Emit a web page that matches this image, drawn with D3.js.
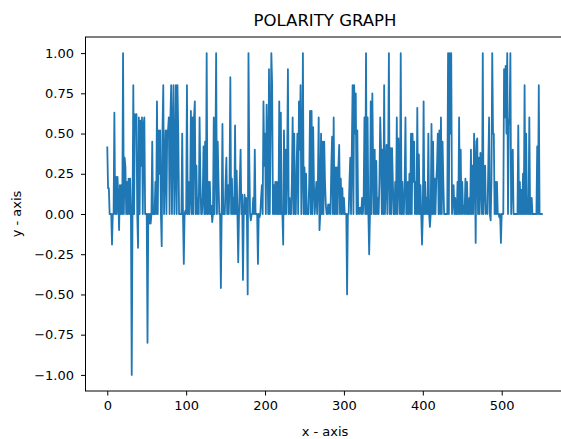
<!DOCTYPE html>
<html>
<head>
<meta charset="utf-8">
<script src="https://cdn.jsdelivr.net/npm/d3@7"></script>
<style>
  body { margin: 0; background: #fff; }
  svg text { font-family: "DejaVu Sans", sans-serif; fill: #000; }
</style>
</head>
<body>
<script>
// polarity value per sentence (index = x)
var polarity = [
  0.42, 0.16, 0.16, 0, 0, 0, -0.19, 0, 0, 0.63,
  0, 0.23, 0, 0.23, 0.1, -0.1, 0.18, 0, 0.18, 0,
  1.0, 0, 0.35, 0.29, 0, 0.2, 0, 0.22, 0, 0.22,
  0, -1.0, 0, 0.8, 0, 0.62, 0.6, 0.62, 0, -0.21,
  0.6, 0, 0.58, 0.3, 0.6, 0, 0.55, 0.6, 0, 0,
  0, -0.8, 0, -0.06, 0, -0.06, 0, 0.45, 0, 0,
  0, 0.2, 0, 0.7, 0, 0.52, 0.25, 0.52, 0, -0.2,
  0.52, 0.8, 0, 0.3, 0.52, 0, 0.52, 0.52, 0.6, 0,
  0.6, 0.8, 0, 0.52, 0.8, 0, 0.3, 0.8, 0, 0.8,
  0.5, 0, 0, 0, 0, 0.5, 0, -0.31, 0, 0.02,
  0, 0.8, 0, 0.2, 0, 0.1, 0.64, 0, 0.6, 0,
  0.6, 0.7, 0, 0.3, 0, 0.1, 0, 0.6, 0.22, 0,
  0, 0.1, 0.42, 0, 0.45, 0, 1.0, 0, 0.2, 0,
  0.2, 0, 0.05, -0.05, 0, 0.6, 0, 0.3, 1.0, 0,
  0.45, 0.2, 0, 0, -0.46, 0, 0.56, 0, 0, 0,
  0.2, 0.35, 0, 0.18, 0, 0.2, 0.85, 0, 0.22, 0,
  0.1, 0, 0.55, 0, 0.27, 0, -0.3, 0, 0.2, 0.4,
  0, 0.12, -0.41, 0, 0.12, 0, 0.1, 0, -0.5, 1.0,
  0.35, 0, -0.04, 0, 0, 0.1, 0, 0.4, 0, 0,
  0, -0.31, 0, -0.02, 0, 0.1, 0.18, 0, 0.7, 0.3,
  0.5, 0, 0.68, 0.4, 0, 0.9, 0, 0.5, 1.0, 0.8,
  0, 0.18, 0, 0.2, 0, 0.2, 0, 0, 0.7, 0,
  0.63, 0, 0, -0.19, 0.52, 0, 0.4, 0, 0.3, 0.9,
  0, 0.1, 0, 0, 0.2, 0.6, 0, 0.5, 0, 0,
  0.3, 0.5, 0, 0.7, 0.4, 0.8, 0, 0.3, 1.0, 0,
  0.29, 0, 0.25, 0, 0, 0, 0.2, 0.64, 0, 0.64,
  0, 0.54, 0.18, 0, 0.1, 0.2, 0, 0.2, 0.6, -0.1,
  0, 0.5, 0, 0.45, 0, 0.45, 0.2, 0.06, 0, 0,
  0.06, 0, 0.06, 0, 0.3, 0.48, 0, 0.6, 0, 0.29,
  0, 0.29, 0, 0.3, 0.43, 0, 0.22, 0, 0.16, 0,
  0.1, 0, 0, 0, -0.5, 0, 0, 0.2, 0.35, 0,
  0.4, 0.8, 0, 0.8, 0.5, 0.75, 0, 0.52, 0, 0.04,
  0, 0.04, 0, 0.1, 0, 0.1, 0.6, 0, 1.0, 0,
  0.6, 0, -0.25, 0, 0.7, 0, 0.75, 0.3, 0, 0.4,
  0, 0.33, 0, 0.1, 0, 0.2, 0.6, 0.4, 0, 0.4,
  0, 0.8, 0, 0.2, 0.43, 0, 0.3, 1.0, 0, 0.41,
  0, 0.41, 0.2, 0, 0, 0.2, 0, 0.6, 0, 0.47,
  0.2, 0, 1.0, 0, 0.2, 0, 0, 0.2, 0.6, 0,
  0, 0.2, 0, 0.25, 0, 0.5, 0, 0.5, 0.2, 0.45,
  0, 0.2, 0, 0.66, 0, 0.37, 0, 0.18, 0, -0.19,
  0, 0.7, 0, 0.2, 0, 0.1, 0, 0.5, 0, -0.08,
  0, 0.56, 0, 0.45, 0, 0.22, 0, 0.2, 0.3, 0.5,
  0, 0.52, 0, 0.6, 0, 0.45, 0.2, 0, 0, 0,
  0, 0, 1.0, 0, 1.0, 0.5, 1.0, 0, 0.1, 0.18,
  0, 0.1, 0, 0, 0.2, 0, 0.6, 0, 0.4, 0,
  0.2, 0, 0.05, 0, 0.22, 0, 0.2, 0, 0, 0.1,
  0, 0.4, 0, 0.3, 0, 0.5, 0.3, -0.18, 0.45, 0.47,
  0, 0.35, 0, 0.38, 0.2, 0, 1.0, 0, 0.2, 0.3,
  0, 0.05, 0, 0.3, 0.6, 0, -0.04, 0.2, 1.0, 0.5,
  0.5, 0, 0.2, 0, 0.2, 0, 0, -0.02, 0, -0.18,
  0, 0, 0, 0.9, 0.6, 0.92, 0.5, 1.0, 0, 0.55,
  0.6, 1.0, 0, 0.2, 0.4, 0, 0, 0, 0, 0,
  0, 0.55, 0, 0.2, 0, 0.15, 0, 0.25, 0, 0.8,
  0, 0.5, 0, 0.1, 0, 0.6, 0, 0, 0.1, 0,
  0, 0, 0, 0, 0, 0.42, 0, 0.8, 0, 0,
  0, 0, 0
];

var xTicks = [0, 100, 200, 300, 400, 500];
var yTicks = [-1, -0.75, -0.5, -0.25, 0, 0.25, 0.5, 0.75, 1];
var titleText = "POLARITY GRAPH";
var xLabel = "x - axis";
var yLabel = "y - axis";

var svgWidth = 561;
var svgHeight = 439;

// axes box (the right edge runs past the window, as in the picture)
var chartMargin = { top: 37, left: 85.5 };
var chartWidth = 479;
var chartHeight = 354;

var svg = d3.select("body")
  .append("svg")
  .attr("width", svgWidth)
  .attr("height", svgHeight);

var chartGroup = svg.append("g")
  .attr("transform", `translate(${chartMargin.left}, ${chartMargin.top})`);

// 5% padding on both axes like matplotlib
var xMax = polarity.length - 1;
var xPad = xMax * 0.05;
var yExt = d3.extent(polarity);
var yPad = (yExt[1] - yExt[0]) * 0.05;

var xScale = d3.scaleLinear()
  .domain([-xPad, xMax + xPad])
  .range([0, chartWidth]);

var yScale = d3.scaleLinear()
  .domain([yExt[0] - yPad, yExt[1] + yPad])
  .range([chartHeight, 0]);

var line = d3.line()
  .x((d, i) => xScale(i))
  .y(d => yScale(d));

chartGroup.append("path")
  .datum(polarity)
  .attr("d", line)
  .attr("fill", "none")
  .attr("stroke", "#1f77b4")
  .attr("stroke-width", 1.8)
  .attr("stroke-linejoin", "round");

var xAxis = d3.axisBottom(xScale)
  .tickValues(xTicks)
  .tickSize(4.5)
  .tickPadding(5)
  .tickSizeOuter(0);

var yAxis = d3.axisLeft(yScale)
  .tickValues(yTicks)
  .tickFormat(d3.format(".2f"))
  .tickSize(4.5)
  .tickPadding(7)
  .tickSizeOuter(0);

var xg = chartGroup.append("g")
  .attr("transform", `translate(0,${chartHeight})`)
  .call(xAxis);

var yg = chartGroup.append("g")
  .call(yAxis);

[xg, yg].forEach(function(g) {
  g.select(".domain").remove();
  g.selectAll(".tick line").attr("stroke", "#000").attr("stroke-width", 1);
  g.selectAll(".tick text")
    .attr("fill", "#000")
    .style("font-size", "13px")
    .style("font-family", "'DejaVu Sans', sans-serif");
});

// spines
chartGroup.append("rect")
  .attr("x", 0)
  .attr("y", 0)
  .attr("width", chartWidth)
  .attr("height", chartHeight)
  .attr("fill", "none")
  .attr("stroke", "#000")
  .attr("stroke-width", 1);

svg.append("text")
  .attr("x", chartMargin.left + chartWidth / 2)
  .attr("y", 26)
  .attr("text-anchor", "middle")
  .style("font-size", "16.5px")
  .text(titleText);

svg.append("text")
  .attr("x", chartMargin.left + chartWidth / 2)
  .attr("y", 436)
  .attr("text-anchor", "middle")
  .style("font-size", "13px")
  .text(xLabel);

svg.append("text")
  .attr("transform", `translate(21, ${chartMargin.top + chartHeight / 2}) rotate(-90)`)
  .attr("text-anchor", "middle")
  .style("font-size", "13px")
  .text(yLabel);
</script>
</body>
</html>
